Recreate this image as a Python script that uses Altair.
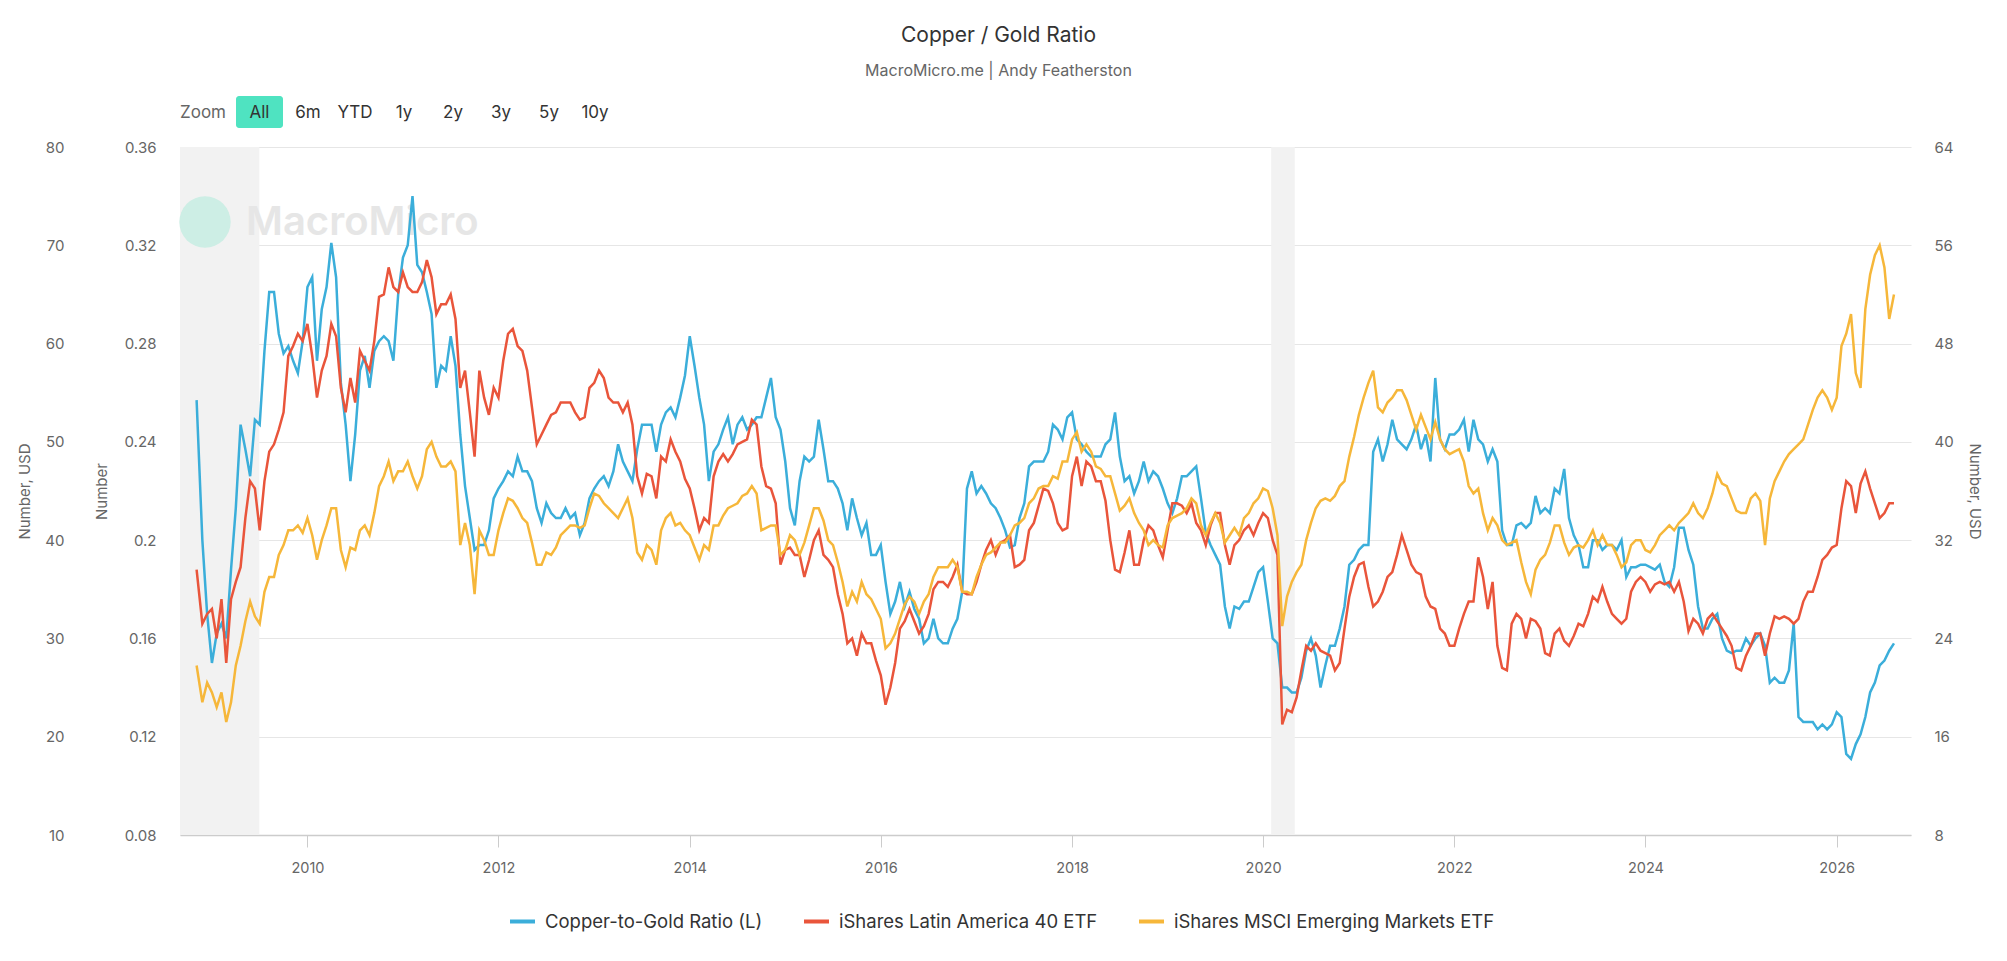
import altair as alt
import pandas as pd

# ---------------- data ----------------
# decimal-year sampling grid: first point = start of data, then every 0.05 year
YEARS = [2008.84] + [round(2008.9 + 0.05 * i, 2) for i in range(355)]

COPPER_GOLD = [
    0.257, 0.200, 0.170,
    0.150, 0.162, 0.166, 0.160, 0.188, 0.213, 0.247, 0.237, 0.226, 0.249,
    0.247, 0.277, 0.301, 0.301, 0.284, 0.276, 0.279, 0.273, 0.268, 0.281,  # 2009
    0.303, 0.307, 0.273, 0.294, 0.303, 0.321, 0.307, 0.264, 0.247, 0.224,
    0.243, 0.269, 0.275, 0.262, 0.277, 0.281, 0.283, 0.281, 0.273, 0.300,  # 2010
    0.315, 0.320, 0.340, 0.312, 0.309, 0.301, 0.292, 0.262, 0.271, 0.269,
    0.283, 0.271, 0.243, 0.222, 0.209, 0.196, 0.198, 0.198, 0.204, 0.217,  # 2011
    0.221, 0.224, 0.228, 0.226, 0.234, 0.228, 0.228, 0.224, 0.213, 0.207,
    0.215, 0.211, 0.209, 0.209, 0.213, 0.209, 0.211, 0.202, 0.207, 0.217,  # 2012
    0.221, 0.224, 0.226, 0.222, 0.228, 0.239, 0.232, 0.228, 0.224, 0.237,
    0.247, 0.247, 0.247, 0.236, 0.247, 0.252, 0.254, 0.250, 0.258, 0.267,  # 2013
    0.283, 0.271, 0.258, 0.247, 0.224, 0.236, 0.239, 0.245, 0.250, 0.239,
    0.247, 0.250, 0.245, 0.247, 0.250, 0.250, 0.258, 0.266, 0.250, 0.245,  # 2014
    0.232, 0.213, 0.206, 0.224, 0.234, 0.232, 0.234, 0.249, 0.237, 0.224,
    0.224, 0.221, 0.215, 0.204, 0.217, 0.209, 0.202, 0.207, 0.194, 0.194,  # 2015
    0.198, 0.183, 0.170, 0.175, 0.183, 0.173, 0.179, 0.172, 0.168, 0.158,
    0.160, 0.168, 0.160, 0.158, 0.158, 0.164, 0.168, 0.179, 0.221, 0.228,  # 2016
    0.219, 0.222, 0.219, 0.215, 0.213, 0.209, 0.204, 0.197, 0.198, 0.209,
    0.215, 0.230, 0.232, 0.232, 0.232, 0.236, 0.247, 0.245, 0.241, 0.250,  # 2017
    0.252, 0.241, 0.239, 0.236, 0.234, 0.234, 0.234, 0.239, 0.241, 0.252,
    0.234, 0.224, 0.226, 0.219, 0.224, 0.232, 0.224, 0.228, 0.226, 0.221,  # 2018
    0.215, 0.211, 0.217, 0.226, 0.226, 0.228, 0.230, 0.217, 0.203, 0.198,
    0.194, 0.190, 0.173, 0.164, 0.173, 0.172, 0.175, 0.175, 0.181, 0.187,  # 2019
    0.189, 0.175, 0.160, 0.158, 0.140, 0.140, 0.138, 0.138, 0.144, 0.155,
    0.160, 0.153, 0.140, 0.149, 0.157, 0.157, 0.164, 0.173, 0.190, 0.192,  # 2020
    0.196, 0.198, 0.198, 0.236, 0.241, 0.232, 0.239, 0.249, 0.241, 0.239,
    0.237, 0.241, 0.247, 0.237, 0.243, 0.232, 0.266, 0.241, 0.237, 0.243,  # 2021
    0.243, 0.245, 0.249, 0.236, 0.249, 0.241, 0.239, 0.232, 0.237, 0.232,
    0.204, 0.198, 0.198, 0.206, 0.207, 0.205, 0.207, 0.218, 0.211, 0.213,  # 2022
    0.211, 0.221, 0.219, 0.229, 0.209, 0.202, 0.198, 0.189, 0.189, 0.200,
    0.200, 0.196, 0.198, 0.198, 0.196, 0.200, 0.185, 0.189, 0.189, 0.190,  # 2023
    0.190, 0.189, 0.188, 0.190, 0.183, 0.181, 0.189, 0.205, 0.205, 0.196,
    0.190, 0.173, 0.164, 0.164, 0.168, 0.170, 0.160, 0.155, 0.154, 0.155,  # 2024
    0.155, 0.160, 0.157, 0.160, 0.162, 0.157, 0.142, 0.144, 0.142, 0.142,
    0.147, 0.166, 0.128, 0.126, 0.126, 0.126, 0.123, 0.125, 0.123, 0.125,  # 2025
    0.130, 0.128, 0.113, 0.111, 0.117, 0.121, 0.128, 0.138, 0.142, 0.149,
    0.151, 0.155, 0.158,                                                  # 2026
]

LATAM_ETF = [
    29.6, 25.2, 26.0,
    26.4, 24.0, 27.2, 22.0, 27.2, 28.6, 29.8, 33.8, 36.8, 36.2,
    32.8, 36.8, 39.2, 39.8, 41.0, 42.4, 47.0, 47.8, 48.8, 48.2,  # 2009
    49.6, 47.0, 43.6, 45.8, 47.0, 49.6, 48.6, 44.4, 42.4, 45.2,
    43.2, 47.4, 46.6, 45.8, 48.2, 51.8, 52.0, 54.2, 52.6, 52.2,  # 2010
    53.8, 52.6, 52.2, 52.2, 53.0, 54.8, 53.4, 50.4, 51.2, 51.2,
    52.0, 50.0, 44.4, 45.8, 42.4, 38.8, 45.8, 43.6, 42.2, 44.4,  # 2011
    43.6, 46.6, 48.8, 49.2, 47.8, 47.4, 45.8, 42.8, 39.8, 40.6,
    41.4, 42.2, 42.4, 43.2, 43.2, 43.2, 42.4, 41.8, 42.0, 44.4,  # 2012
    44.8, 45.8, 45.2, 43.6, 43.2, 43.2, 42.4, 43.2, 41.4, 37.2,
    35.8, 37.4, 37.2, 35.4, 38.8, 38.4, 40.2, 39.2, 38.4, 37.0,  # 2013
    36.2, 34.6, 32.8, 33.8, 33.4, 37.2, 38.4, 39.0, 38.4, 39.0,
    39.8, 40.0, 40.2, 41.8, 41.4, 38.0, 36.4, 36.2, 35.0, 30.0,  # 2014
    31.2, 31.4, 30.8, 30.8, 29.0, 30.4, 32.0, 32.8, 30.8, 30.4,
    29.8, 27.6, 26.0, 23.6, 24.0, 22.6, 24.4, 23.6, 23.6, 22.2,  # 2015
    21.0, 18.6, 20.0, 22.0, 24.8, 25.4, 26.4, 25.4, 24.4, 25.0,
    26.0, 28.0, 28.6, 28.6, 28.2, 29.0, 30.0, 27.8, 27.6, 27.6,  # 2016
    28.6, 30.0, 31.2, 32.0, 30.8, 31.8, 32.0, 32.4, 29.8, 30.0,
    30.4, 32.8, 33.4, 34.8, 36.2, 36.0, 35.0, 33.4, 32.8, 33.0,  # 2017
    37.2, 38.8, 36.4, 38.4, 38.0, 36.8, 36.8, 35.2, 32.0, 29.6,
    29.4, 31.0, 32.8, 30.0, 30.0, 32.0, 33.2, 32.8, 31.6, 30.6,  # 2018
    32.8, 35.0, 35.0, 34.8, 34.2, 35.0, 33.4, 32.8, 31.6, 33.2,
    34.2, 34.2, 31.6, 30.0, 31.6, 32.0, 32.8, 33.2, 32.4, 33.4,  # 2019
    34.2, 33.8, 32.0, 30.8, 17.0, 18.2, 18.0, 19.2, 21.4, 23.4,
    23.0, 23.6, 23.0, 22.8, 22.6, 21.4, 22.0, 24.8, 27.4, 29.0,  # 2020
    30.0, 30.2, 28.2, 26.6, 27.0, 27.8, 29.0, 29.4, 30.8, 32.4,
    31.2, 30.0, 29.4, 29.2, 27.4, 26.6, 26.4, 24.8, 24.4, 23.4,  # 2021
    23.4, 24.8, 26.0, 27.0, 27.0, 30.6, 29.0, 26.4, 28.6, 23.4,
    21.6, 21.4, 25.2, 26.0, 25.6, 24.0, 25.6, 25.4, 24.8, 22.8,  # 2022
    22.6, 24.4, 24.8, 23.8, 23.4, 24.2, 25.2, 25.0, 26.0, 27.4,
    27.0, 28.2, 27.0, 26.0, 25.6, 25.2, 25.6, 27.8, 28.6, 29.0,  # 2023
    28.6, 27.8, 28.4, 28.6, 28.4, 28.6, 27.8, 28.6, 27.0, 24.6,
    25.6, 25.2, 24.4, 25.6, 26.0, 25.4, 24.8, 24.2, 23.4, 21.6,  # 2024
    21.4, 22.6, 23.4, 24.4, 24.4, 22.6, 24.4, 25.8, 25.6, 25.8,
    25.6, 25.2, 25.6, 27.0, 27.8, 27.8, 29.0, 30.4, 30.8, 31.4,  # 2025
    31.6, 34.6, 36.8, 36.4, 34.2, 36.6, 37.6, 36.2, 35.0, 33.8,
    34.2, 35.0, 35.0,                                            # 2026
]

EM_ETF = [
    27.25, 23.5, 25.5,
    24.5, 23.0, 24.5, 21.5, 23.5, 27.25, 29.25, 31.75, 33.75, 32.25,
    31.5, 34.75, 36.25, 36.25, 38.5, 39.5, 41.0, 41.0, 41.5, 40.75,     # 2009
    42.25, 40.5, 38.0, 40.0, 41.5, 43.25, 43.25, 39.0, 37.25, 39.25,
    39.0, 41.0, 41.5, 40.5, 42.75, 45.5, 46.5, 48.0, 46.0, 47.0,        # 2010
    47.0, 48.0, 46.5, 45.25, 46.5, 49.25, 50.0, 48.5, 47.5, 47.5,
    48.0, 47.0, 39.5, 41.75, 39.5, 34.5, 41.0, 40.0, 38.5, 38.5,        # 2011
    41.0, 42.75, 44.25, 44.0, 43.25, 42.25, 41.75, 39.75, 37.5, 37.5,
    38.75, 38.5, 39.25, 40.5, 41.0, 41.5, 41.5, 41.25, 41.5, 43.25,     # 2012
    44.75, 44.5, 43.75, 43.25, 42.75, 42.25, 43.25, 44.25, 42.25, 38.75,
    38.0, 39.5, 39.0, 37.5, 41.0, 42.25, 42.75, 41.5, 41.75, 41.0,      # 2013
    40.5, 39.25, 38.0, 39.5, 39.0, 41.5, 41.5, 42.5, 43.25, 43.5,
    43.75, 44.5, 44.75, 45.5, 44.75, 41.0, 41.25, 41.5, 41.5, 38.5,     # 2014
    39.0, 40.5, 40.0, 38.5, 39.75, 41.5, 43.25, 43.25, 42.0, 40.0,
    39.5, 37.75, 35.75, 33.25, 34.75, 33.75, 35.75, 34.5, 34.0, 33.0,   # 2015
    32.0, 29.0, 29.5, 30.5, 32.0, 33.5, 34.25, 33.75, 32.5, 33.75,
    34.5, 36.25, 37.25, 37.25, 37.25, 38.0, 37.25, 34.75, 34.75, 34.5,  # 2016
    36.25, 37.5, 38.5, 38.75, 39.25, 39.75, 39.75, 40.5, 41.5, 41.75,
    42.25, 43.75, 44.25, 45.25, 45.5, 45.5, 46.5, 46.25, 48.0, 48.0,    # 2017
    50.25, 51.0, 49.0, 49.75, 49.0, 47.5, 47.25, 46.5, 46.5, 44.75,
    43.0, 43.5, 44.25, 42.75, 41.75, 41.0, 39.5, 40.0, 39.5, 39.25,     # 2018
    41.5, 42.25, 42.5, 42.75, 43.25, 44.25, 43.75, 41.5, 40.5, 41.75,
    42.75, 41.75, 39.75, 40.5, 41.25, 40.5, 42.25, 42.75, 43.75, 44.25, # 2019
    45.25, 45.0, 43.25, 40.5, 31.25, 34.25, 35.75, 36.75, 37.5, 40.0,
    41.75, 43.25, 44.0, 44.25, 44.0, 44.5, 45.5, 46.0, 48.5, 50.5,      # 2020
    52.75, 54.5, 56.0, 57.25, 53.5, 53.0, 54.0, 54.5, 55.25, 55.25,
    54.25, 52.75, 51.25, 52.75, 51.5, 50.25, 52.0, 50.25, 49.25, 48.75, # 2021
    49.0, 49.25, 48.0, 45.5, 44.75, 45.25, 42.75, 41.0, 42.25, 41.5,
    40.0, 39.5, 39.75, 40.0, 37.75, 35.75, 34.5, 37.0, 38.0, 38.5,      # 2022
    39.75, 41.5, 41.5, 39.75, 38.5, 39.25, 39.5, 39.25, 40.0, 41.0,
    39.5, 40.5, 39.5, 39.5, 38.5, 37.25, 37.75, 39.5, 40.0, 40.0,       # 2023
    39.0, 38.75, 39.5, 40.5, 41.0, 41.5, 41.0, 41.75, 42.25, 42.75,
    43.75, 42.75, 42.25, 43.25, 44.75, 46.75, 45.75, 45.5, 44.25, 43.0, # 2024
    42.75, 42.75, 44.25, 44.75, 44.0, 39.5, 44.25, 46.0, 47.0, 48.0,
    48.75, 49.25, 49.75, 50.25, 51.75, 53.25, 54.5, 55.25, 54.5, 53.25, # 2025
    54.5, 59.75, 61.0, 63.0, 57.0, 55.5, 63.5, 67.0, 69.0, 70.0,
    67.75, 62.5, 65.0,                                                  # 2026
]

NAMES = ["Copper-to-Gold Ratio (L)", "iShares Latin America 40 ETF",
         "iShares MSCI Emerging Markets ETF"]
COLORS = ["#3BAEDA", "#E9553B", "#F6B73A"]

SHADE_START = ["2008-09-01", "2020-02-01"]
SHADE_END = ["2009-07-01", "2020-05-01"]

X_TICK_YEARS = [2010, 2012, 2014, 2016, 2018, 2020, 2022, 2024, 2026]
RATIO_TICKS = [0.08, 0.12, 0.16, 0.20, 0.24, 0.28, 0.32, 0.36]
EM_TICKS = [10, 20, 30, 40, 50, 60, 70, 80]
LATAM_TICKS = [8, 16, 24, 32, 40, 48, 56, 64]

ZOOM_BUTTONS = ["All", "6m", "YTD", "1y", "2y", "3y", "5y", "10y"]
ZOOM_BUTTON_X = [79.5, 128, 175, 224, 273, 321, 369, 415]   # layout offsets

# ---------------- build tables ----------------
assert len(YEARS) == len(COPPER_GOLD) == len(LATAM_ETF) == len(EM_ETF), (
    len(YEARS), len(COPPER_GOLD), len(LATAM_ETF), len(EM_ETF))


def to_date(y):
    yr = int(y + 1e-9)
    frac = y - yr
    s = pd.Timestamp(year=yr, month=1, day=1)
    e = pd.Timestamp(year=yr + 1, month=1, day=1)
    return s + (e - s) * frac


dates = [to_date(y) for y in YEARS]
rows = []
for name, vals in zip(NAMES, [COPPER_GOLD, LATAM_ETF, EM_ETF]):
    for d, v in zip(dates, vals):
        rows.append({"date": d, "series": name, "value": v})
df = pd.DataFrame(rows)
shade_df = pd.DataFrame({"start": pd.to_datetime(SHADE_START), "end": pd.to_datetime(SHADE_END)})
one = pd.DataFrame({"k": [0]})

W, H = 1731, 688
GRAY = "#666666"
FONT = "Inter"

x_scale = alt.Scale(domain=[alt.DateTime(year=2008, month=9, date=1),
                            alt.DateTime(year=2026, month=10, date=12)])
x_axis = alt.Axis(values=[alt.DateTime(year=y, month=1, date=1) for y in X_TICK_YEARS],
                  format="%Y", grid=False, tickSize=12, tickColor="#cccccc",
                  domainColor="#cccccc", domainWidth=1.5, labelFontSize=14.5,
                  labelColor=GRAY, labelPadding=14, labelFont=FONT)

color_enc = alt.Color("series:N", scale=alt.Scale(domain=NAMES, range=COLORS),
                      legend=alt.Legend(orient="none", legendX=328, legendY=760,
                                        direction="horizontal", title=None,
                                        symbolType="stroke", symbolSize=625,
                                        symbolStrokeWidth=4, labelFontSize=18.5,
                                        labelColor="#333333", labelFont=FONT,
                                        columnPadding=33, labelOffset=8,
                                        labelLimit=500))

shade = alt.Chart(shade_df).mark_rect(color="#f2f2f2").encode(
    x=alt.X("start:T", title=None, scale=x_scale, axis=x_axis),
    x2="end:T",
)

logo = alt.Chart(one).mark_circle(size=2640, color="#cdeee5", opacity=1).encode(
    x=alt.value(25), y=alt.value(75))
wm = alt.Chart(one).mark_text(text="MacroMicro", align="left", baseline="middle",
                              fontSize=40, fontWeight=600, color="#e6e6e6",
                              font=FONT).encode(x=alt.value(66), y=alt.value(76))


def line(name, axis, domain):
    return alt.Chart(df).transform_filter(alt.datum.series == name).mark_line(
        strokeWidth=2.5).encode(
        x=alt.X("date:T", title=None, scale=x_scale, axis=x_axis),
        y=alt.Y("value:Q", scale=alt.Scale(domain=domain, nice=False, zero=False),
                axis=axis),
        color=color_enc,
    )


ratio_axis = alt.Axis(orient="left", values=RATIO_TICKS, format=".2~f", grid=True,
                      gridColor="#e6e6e6", gridWidth=1.2, ticks=False, domain=False,
                      labelPadding=24, labelFontSize=15, labelColor=GRAY,
                      title="Number", titleFontSize=15, titleColor=GRAY,
                      titleFontWeight="normal", titlePadding=14, labelFont=FONT,
                      titleFont=FONT)
em_axis = alt.Axis(orient="left", offset=108, values=EM_TICKS, grid=False, ticks=False,
                   domain=False, labelPadding=8, labelFontSize=15, labelColor=GRAY,
                   title="Number, USD", titleFontSize=15, titleColor=GRAY,
                   titleFontWeight="normal", titlePadding=12, labelFont=FONT,
                   titleFont=FONT)
latam_axis = alt.Axis(orient="right", values=LATAM_TICKS, grid=False, ticks=False,
                      domain=False, labelPadding=23, labelFontSize=15, labelColor=GRAY,
                      title="Number, USD", titleFontSize=15, titleColor=GRAY,
                      titleFontWeight="normal", titlePadding=13, labelFont=FONT,
                      titleFont=FONT)

blue = line(NAMES[0], ratio_axis, [0.08, 0.36])
yellow = line(NAMES[2], em_axis, [10, 80])
red = line(NAMES[1], latam_axis, [8, 64])

btn_bg = alt.Chart(one).mark_rect(color="#4FE3C1", cornerRadius=3).encode(
    x=alt.value(56), x2=alt.value(103), y=alt.value(-51), y2=alt.value(-19))
zoom_lbl = alt.Chart(one).mark_text(text="Zoom", align="left", baseline="middle",
                                    fontSize=17, color=GRAY, font=FONT).encode(
    x=alt.value(0), y=alt.value(-34))
btn_txt = [alt.Chart(one).mark_text(text=t, align="center", baseline="middle",
                                    fontSize=17, color="#333333", font=FONT).encode(
    x=alt.value(px), y=alt.value(-34)) for t, px in zip(ZOOM_BUTTONS, ZOOM_BUTTON_X)]

chart = alt.layer(shade, logo, wm, blue, red, yellow, btn_bg, zoom_lbl, *btn_txt).resolve_scale(
    y="independent"
).properties(
    width=W, height=H,
    title=alt.TitleParams(text="Copper / Gold Ratio",
                          subtitle="MacroMicro.me | Andy Featherston",
                          anchor="middle", dx=-47, fontSize=21, subtitleFontSize=16,
                          color="#333333", subtitleColor=GRAY, font=FONT,
                          subtitleFont=FONT, fontWeight="normal",
                          subtitlePadding=17, offset=17),
    padding={"left": 172, "top": 139, "right": 80, "bottom": 110},
    autosize=alt.AutoSizeParams(type="none"),
).configure(font=FONT, background="white").configure_view(stroke=None)

chart.save("out.html", embed_options={"renderer": "svg", "actions": False})
